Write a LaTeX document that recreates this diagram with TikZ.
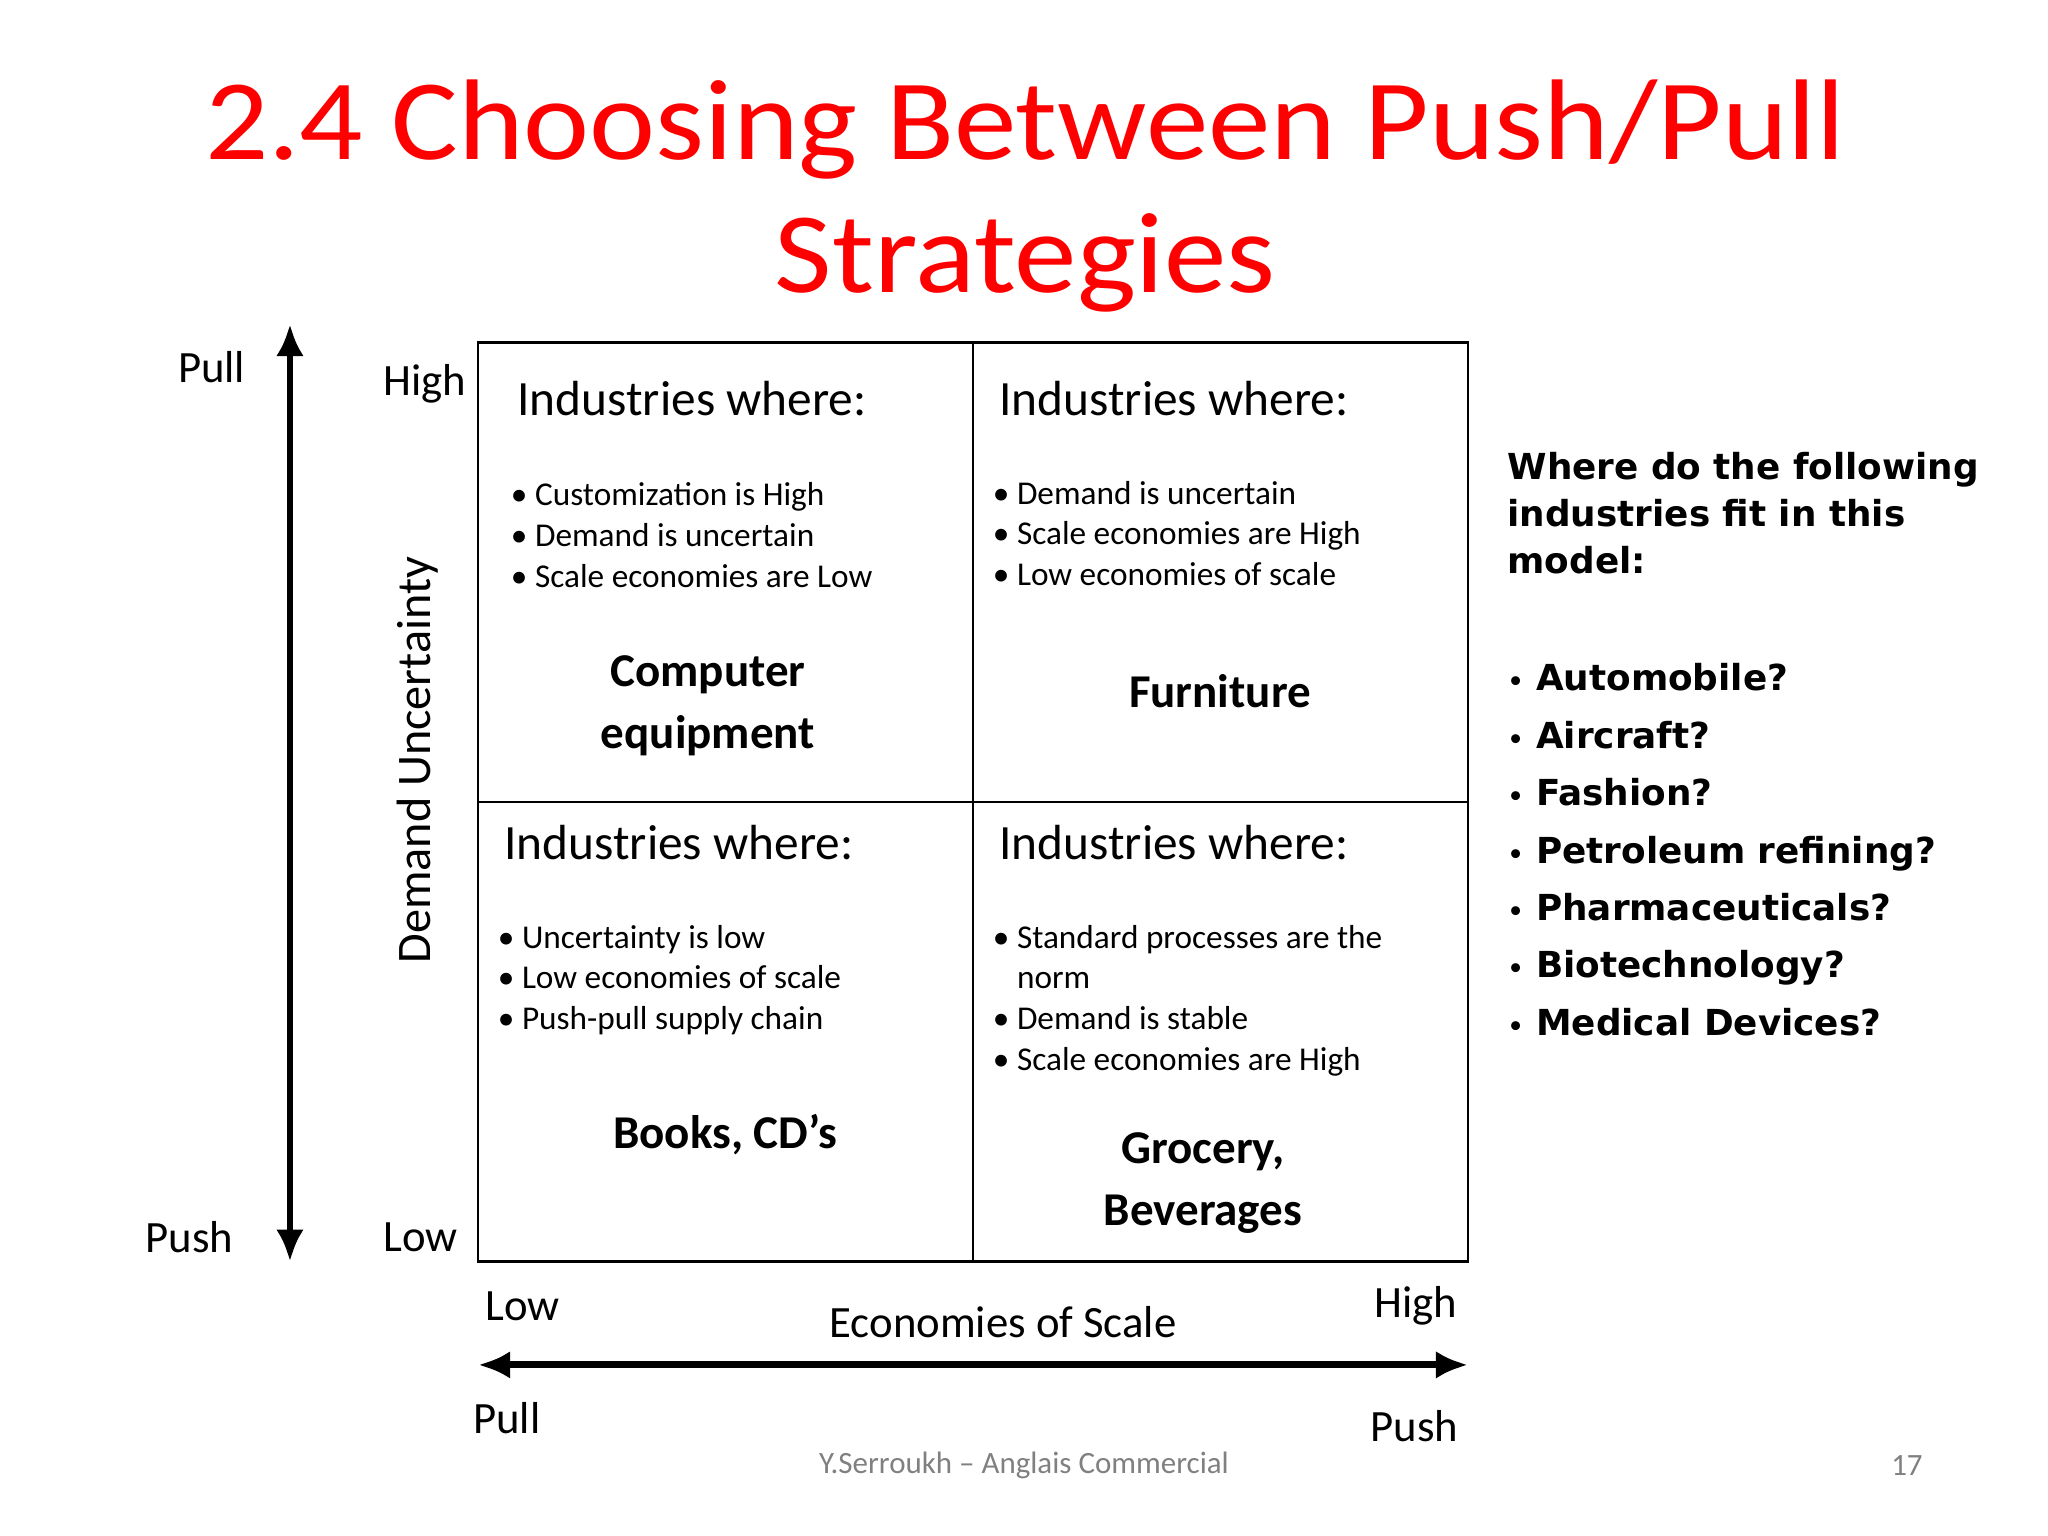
\documentclass[tikz,border=0pt]{standalone}
\usepackage{fontspec}
\usetikzlibrary{arrows.meta}
\setmainfont{Carlito}
\newfontfamily\rfont{DejaVu Sans}
\begin{document}
\begin{tikzpicture}[x=0.02cm,y=-0.02cm,
  box/.style={draw,line width=1.2pt},
  hd/.style={anchor=base west,font=\fontsize{21.5}{25}\selectfont},
  bl/.style={anchor=north west,align=left,font=\fontsize{14.5}{17.8}\selectfont},
  nm/.style={align=center,font=\fontsize{20.5}{27}\selectfont\bfseries},
  lb/.style={font=\fontsize{19.5}{22}\selectfont},
  ax/.style={line width=3pt,{Latex[length=14pt,width=12pt]}-{Latex[length=14pt,width=12pt]}}]
\useasboundingbox (0,0) rectangle (1568,1176);
\node[text=red,align=center,font=\fontsize{50}{58}\selectfont,xscale=1.09] (title) at (785,150) {2.4 Choosing Between Push/Pull\\Strategies};
\draw[box] (366,262) rectangle (1124,966);
\draw[box] (745,262) -- (745,966);
\draw[box] (366,614) -- (1124,614);
\node[hd] (h1) at (390,318) {Industries where:};
\node[hd] (h2) at (759,318) {Industries where:};
\node[hd] (h3) at (380,658) {Industries where:};
\node[hd] (h4) at (759,658) {Industries where:};
\node[bl] (b1) at (385,363) {• Customization is High\\• Demand is uncertain\\• Scale economies are Low};
\node[bl] (b2) at (754,362) {• Demand is uncertain\\• Scale economies are High\\• Low economies of scale};
\node[bl] (b3) at (375,702) {• Uncertainty is low\\• Low economies of scale\\• Push-pull supply chain};
\node[bl] (b4) at (754,702) {• Standard processes are the\\\phantom{• }norm\\• Demand is stable\\• Scale economies are High};
\node[nm] (n1) at (542,540) {Computer\\equipment};
\node[nm] (n2) at (934,529) {Furniture};
\node[nm] (n3) at (555,869) {Books, CD’s};
\node[nm] (n4) at (921,906) {Grocery,\\Beverages};
\coordinate (vt) at (222,248);
\coordinate (vb) at (222,966);
\draw[ax] (vt) -- (vb);
\coordinate (hl) at (366,1045);
\coordinate (hr) at (1124,1045);
\draw[ax] (hl) -- (hr);
\node[lb] (pull1) at (162,281) {Pull};
\node[lb] (push1) at (145,947) {Push};
\node[lb] (high1) at (325,294) {High};
\node[lb] (low1) at (322,947) {Low};
\node[lb,rotate=90,font=\fontsize{21}{22}\selectfont] (du) at (320,582) {Demand Uncertainty};
\node[lb] (low2) at (400,1000) {Low};
\node[lb] (eos) at (768,1012) {Economies of Scale};
\node[lb] (high2) at (1084,1000) {High};
\node[lb] (pull2) at (388,1086) {Pull};
\node[lb] (push2) at (1083,1092) {Push};
\node[text=gray,font=\fontsize{13.5}{15}\selectfont] (ft) at (784,1122) {Y.Serroukh – Anglais Commercial};
\node[text=gray,font=\fontsize{13.5}{15}\selectfont] (pg) at (1460,1122) {17};
\node[anchor=north west,align=left,font=\rfont\fontsize{15.6}{20.5}\selectfont\bfseries] (q) at (1148,340) {Where do the following\\industries fit in this\\model:};
\node[anchor=north west,align=left,font=\rfont\fontsize{15.6}{25}\selectfont\bfseries] (ql) at (1148,502) {{\fontsize{11}{11}\selectfont•} Automobile?\\{\fontsize{11}{11}\selectfont•} Aircraft?\\{\fontsize{11}{11}\selectfont•} Fashion?\\{\fontsize{11}{11}\selectfont•} Petroleum refining?\\{\fontsize{11}{11}\selectfont•} Pharmaceuticals?\\{\fontsize{11}{11}\selectfont•} Biotechnology?\\{\fontsize{11}{11}\selectfont•} Medical Devices?};
\end{tikzpicture}
\end{document}
